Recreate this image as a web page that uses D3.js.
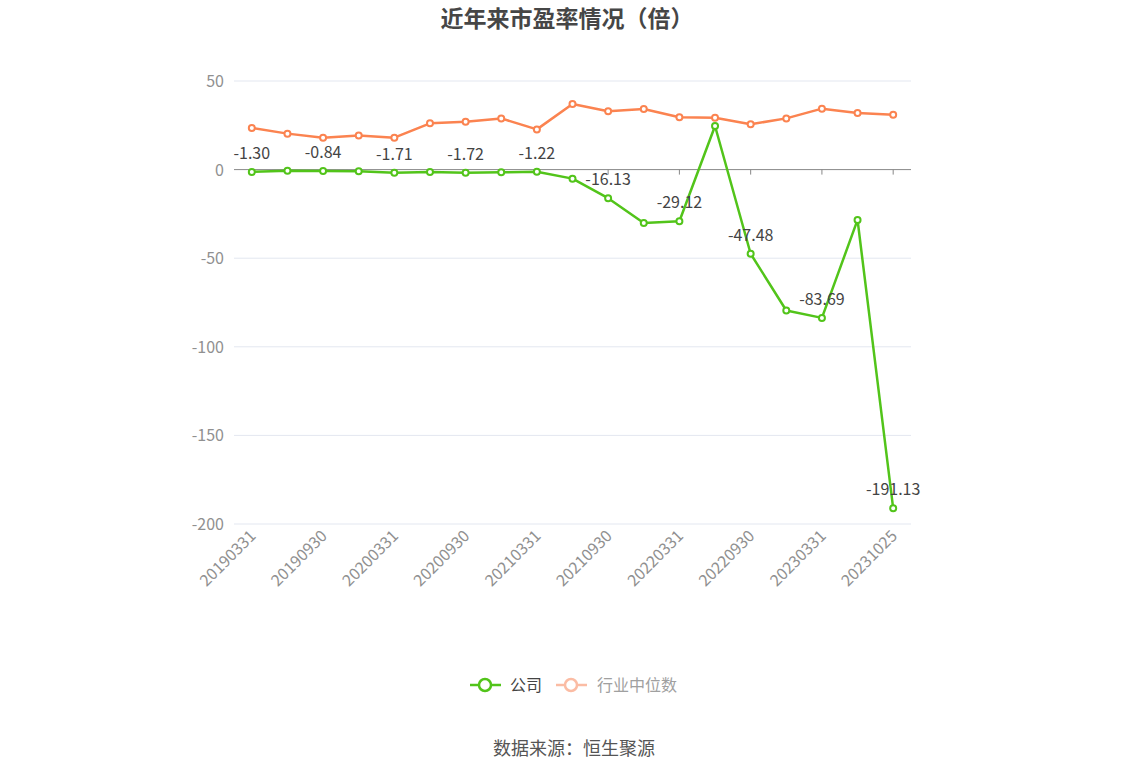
<!DOCTYPE html>
<html><head><meta charset="utf-8">
<script src="https://cdn.jsdelivr.net/npm/d3@7/dist/d3.min.js"></script>
<style>body{margin:0;background:#fff;}svg{display:block;font-family:"Noto Sans CJK SC","Noto Sans",sans-serif;}</style>
</head><body>
<svg id="c" width="1148" height="776"></svg>
<script>
const categories = ["20190331","20190630","20190930","20191231","20200331","20200630","20200930","20201231","20210331","20210630","20210930","20211231","20220331","20220630","20220930","20221231","20230331","20230630","20231025"];
const companyValues = [-1.30,-0.70,-0.84,-0.95,-1.71,-1.40,-1.72,-1.50,-1.22,-5.1,-16.13,-30.1,-29.12,24.6,-47.48,-79.5,-83.69,-28.4,-191.13];
const industryValues = [23.5,20.3,18.0,19.2,18.0,26.1,27.0,28.9,22.7,37.0,32.9,34.2,29.5,29.3,25.6,28.9,34.4,32.0,31.0];
const yTicks = [50,0,-50,-100,-150,-200];
const labelIdx = [0,2,4,6,8,10,12,14,16,18];

const svg = d3.select("#c");
const L=234,R=911,T=81,B=524;
const x = d3.scaleBand().domain(categories).range([L,R]).padding(0);
const cx = c => x(c)+x.bandwidth()/2;
const y = d3.scaleLinear().domain([-200,50]).range([B,T]);
const green="#52c41a", orange="#fb8350";

svg.append("text").attr("x",567).attr("y",27).attr("text-anchor","middle")
  .attr("font-size",23).attr("font-weight","bold").attr("fill","#464646").text("近年来市盈率情况（倍）");

// grid
svg.append("g").selectAll("line").data(yTicks.filter(d=>d!==0)).join("line")
  .attr("x1",L).attr("x2",R).attr("y1",d=>y(d)).attr("y2",d=>y(d))
  .attr("stroke","#e3e7f0").attr("stroke-width",1);
svg.append("g").selectAll("text").data(yTicks).join("text")
  .attr("x",224).attr("y",d=>y(d)+6).attr("text-anchor","end")
  .attr("font-size",16).attr("fill","#909090").text(d=>d);

// x axis at zero
svg.append("line").attr("x1",L).attr("x2",R).attr("y1",y(0)).attr("y2",y(0)).attr("stroke","#888").attr("stroke-width",1);
svg.append("g").selectAll("line").data(labelIdx).join("line")
  .attr("x1",i=>cx(categories[i])).attr("x2",i=>cx(categories[i]))
  .attr("y1",y(0)).attr("y2",y(0)+5).attr("stroke","#888");
svg.append("g").selectAll("text").data(labelIdx).join("text")
  .attr("transform",i=>`translate(${cx(categories[i])+5},${B+13}) rotate(-45)`)
  .attr("text-anchor","end").attr("font-size",16).attr("fill","#909090")
  .text(i=>categories[i]);

function series(vals,color){
  const line=d3.line().x((d,i)=>cx(categories[i])).y(d=>y(d));
  svg.append("path").datum(vals).attr("d",line).attr("fill","none").attr("stroke",color).attr("stroke-width",2.5).attr("stroke-linejoin","round");
  svg.append("g").selectAll("circle").data(vals).join("circle")
    .attr("cx",(d,i)=>cx(categories[i])).attr("cy",d=>y(d)).attr("r",3)
    .attr("fill","#fff").attr("stroke",color).attr("stroke-width",2);
}
series(industryValues,orange);
series(companyValues,green);

svg.append("g").selectAll("text").data(labelIdx).join("text")
  .attr("x",i=>cx(categories[i])).attr("y",i=>y(companyValues[i])-13)
  .attr("text-anchor","middle").attr("font-size",16).attr("fill","#444")
  .text(i=>companyValues[i].toFixed(2));

// legend
const lg=svg.append("g");
lg.append("line").attr("x1",470).attr("x2",501).attr("y1",685).attr("y2",685).attr("stroke",green).attr("stroke-width",2.5);
lg.append("circle").attr("cx",485).attr("cy",685).attr("r",6).attr("fill","#fff").attr("stroke",green).attr("stroke-width",2.5);
lg.append("text").attr("x",510).attr("y",691).attr("font-size",16).attr("fill","#444").text("公司");
const lo="#fbbca4";
lg.append("line").attr("x1",556).attr("x2",587).attr("y1",685).attr("y2",685).attr("stroke",lo).attr("stroke-width",2.5);
lg.append("circle").attr("cx",571).attr("cy",685).attr("r",6).attr("fill","#fff").attr("stroke",lo).attr("stroke-width",2.5);
lg.append("text").attr("x",597).attr("y",691).attr("font-size",16).attr("fill","#a0a0a0").text("行业中位数");

svg.append("text").attr("x",574).attr("y",755).attr("text-anchor","middle").attr("font-size",18).attr("fill","#555").text("数据来源：恒生聚源");
</script>
</body></html>
